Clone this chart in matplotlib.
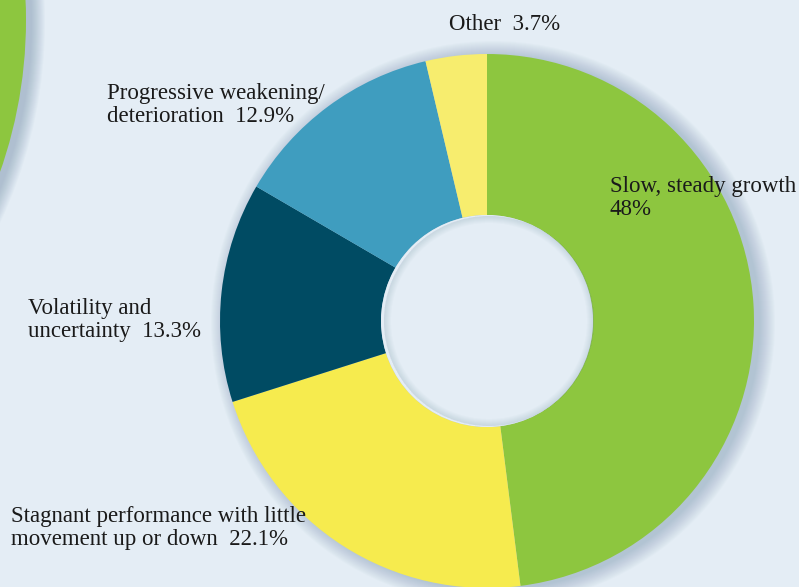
import matplotlib.pyplot as plt
from matplotlib.patches import Circle, Wedge

labels = ["Slow, steady growth\n48%",
          "Stagnant performance with little\nmovement up or down  22.1%",
          "Volatility and\nuncertainty  13.3%",
          "Progressive weakening/\ndeterioration  12.9%",
          "Other  3.7%"]
values = [48, 22.1, 13.3, 12.9, 3.7]
colors = ["#8dc63f", "#f6eb4e", "#004b63", "#3f9dbf", "#f7ed6e"]

bg = "#e4edf5"
W, H = 799, 587

fig = plt.figure(figsize=(7.99, 5.87), dpi=100)
fig.patch.set_facecolor(bg)
ax = fig.add_axes([0, 0, 1, 1])
ax.set_facecolor(bg)

cx, cy, R, r_in = 487, 266, 267, 106

# soft drop shadow behind the ring
for i in range(16):
    ax.add_patch(Circle((cx + 6, cy - 2), R + 15 - i, color="#5f7f9c",
                        alpha=0.025, lw=0, zorder=1))
# big green disc in the corner, with its own shadow
for i in range(14):
    ax.add_patch(Circle((-432 + 5, H - 20 - 2), 458 + 14 - i, color="#5f7f9c",
                        alpha=0.03, lw=0, zorder=1))
ax.add_patch(Circle((-432, H - 20), 458, color="#8dc63f", lw=0, zorder=2))

wedges, _ = ax.pie(values, colors=colors, startangle=90, counterclock=False,
                   center=(cx, cy), radius=R, frame=True,
                   wedgeprops=dict(width=R - r_in, linewidth=0))
for w in wedges:
    w.set_zorder(3)

# hole: background fill plus a faint inner shadow
ax.add_patch(Circle((cx, cy), r_in, color=bg, lw=0, zorder=4))
for i in range(7):
    ax.add_patch(Wedge((cx + 2, cy), r_in - 1, 0, 360, width=7 - i,
                       color="#7d98b0", alpha=0.035, lw=0, zorder=5))

ax.set_xlim(0, W)
ax.set_ylim(0, H)
ax.set_aspect("equal")
ax.axis("off")

font = dict(family="Liberation Serif", fontsize=16.5, color="#1a1a1a",
            linespacing=1.1, va="baseline", zorder=6)
ax.text(610, H - 215, labels[0], **font)
ax.text(11, H - 545, labels[1], **font)
ax.text(28, H - 337, labels[2], **font)
ax.text(107, H - 122, labels[3], **font)
ax.text(449, H - 30, labels[4], **font)

fig.savefig("out.png", dpi=100, facecolor=bg)
